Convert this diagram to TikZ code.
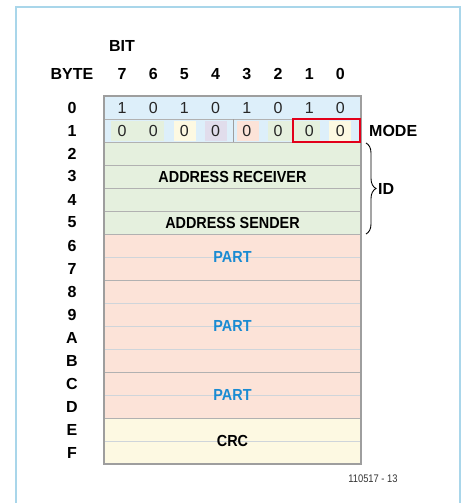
\documentclass[tikz,border=0pt]{standalone}
\usepackage{fontspec}
\setmainfont{Liberation Sans}
\newfontfamily\narrowfont[FakeStretch=0.9]{Liberation Sans}
\newfontfamily\labelfont[FakeStretch=0.85]{Liberation Sans}
\usetikzlibrary{decorations.pathreplacing}
\definecolor{frameblue}{HTML}{A9D6EA}
\definecolor{cellblue}{HTML}{DDEFFA}
\definecolor{cellgreen}{HTML}{E5F0DE}
\definecolor{cellpink}{HTML}{FCE3D8}
\definecolor{cellyellow}{HTML}{FDF9E2}
\definecolor{cellpurple}{HTML}{E1DDEC}
\definecolor{gridgray}{HTML}{9E9E9E}
\definecolor{thingray}{HTML}{CFD5DA}
\definecolor{partblue}{HTML}{1A8BD2}
\definecolor{modered}{HTML}{E2001A}

\begin{document}
\begin{tikzpicture}[x=1pt,y=-1pt]
	\tikzstyle{head}=[font=\fontsize{16}{18}\selectfont\bfseries,inner sep=0pt]
	\tikzstyle{bitval}=[font=\fontsize{16}{18}\selectfont,text=black!85,inner sep=0pt]
	\tikzstyle{field}=[font=\fontsize{16}{18}\selectfont\narrowfont\bfseries,inner sep=0pt]
	\useasboundingbox (0,0) rectangle (464,503);
	\clip (0,0) rectangle (464,503);
	% frame
	\draw [frameblue,line width=1.8pt] (16,7) rectangle (460,530);
	% cell fills
	\fill [cellblue] (104,96) rectangle (361,142);
	\fill [cellgreen] (104,142) rectangle (361,234);
	\fill [cellpink] (104,234) rectangle (361,418);
	\fill [cellyellow] (104,418) rectangle (361,464);
	% patches behind the bits of byte 1
	\fill [cellgreen] (111,121) rectangle (164,141);
	\fill [cellyellow] (174,121) rectangle (196,141);
	\fill [cellpurple] (205,121) rectangle (227,141);
	\fill [cellpink] (237,121) rectangle (259,141);
	\fill [cellgreen] (268,121) rectangle (320,141);
	\fill [cellyellow] (329,121) rectangle (351,141);
	% row lines
	\foreach \r in {7,9,10,11,13,15}
		\draw [thingray,line width=1pt] (104,96+23*\r) -- (361,96+23*\r);
	\foreach \r in {1,2,3,4,5,6,8,12,14}
		\draw [gridgray!80,line width=1pt] (104,96+23*\r) -- (361,96+23*\r);
	\draw [gridgray,line width=1pt] (233,119) -- (233,142);
	\draw [gridgray,line width=1.5pt] (104,96) rectangle (361,464);
	\draw [modered,line width=2pt] (293,119) rectangle (360,142);
	% headings
	\node [head] (bit) at (122,46) {BIT};
	\node [head] (byte) at (72,74) {BYTE};
	\foreach \i in {0,...,7} {
		\pgfmathtruncatemacro{\b}{7-\i}
		\node [head] (col\b) at (122+31.2*\i,74) {\b};
	}
	\foreach \r/\t in {0/0,1/1,2/2,3/3,4/4,5/5,6/6,7/7,8/8,9/9,10/A,11/B,12/C,13/D,14/E,15/F}
		\node [head] (row\t) at (72,107.5+23*\r) {\t};
	% bit values
	\foreach \i/\v in {0/1,1/0,2/1,3/0,4/1,5/0,6/1,7/0}
		\node [bitval] (sync\i) at (122+31.2*\i,108) {\v};
	\foreach \i in {0,...,7}
		\node [bitval] (mode\i) at (122+31.2*\i,131) {0};
	% fields
	\node [field] (receiver) at (232.5,176.5) {ADDRESS RECEIVER};
	\node [field] (sender) at (232.5,222.5) {ADDRESS SENDER};
	\node [field,text=partblue] (part1) at (232.5,257) {PART};
	\node [field,text=partblue] (part2) at (232.5,326) {PART};
	\node [field,text=partblue] (part3) at (232.5,395) {PART};
	\node [field] (crc) at (232.5,441) {CRC};
	\node [head,anchor=west] (mode) at (369,131) {MODE};
	\coordinate (idtop) at (366,143);
	\coordinate (idbot) at (366,234);
	\draw [decorate,decoration={brace,amplitude=10pt},line width=0.9pt] (idtop) -- (idbot);
	\node [head,anchor=west] (id) at (378,189) {ID};
	\node [font=\labelfont\fontsize{11}{13}\selectfont,text=black!80,inner sep=0pt] (fignum) at (373,479) {110517 - 13};
\end{tikzpicture}
\end{document}
